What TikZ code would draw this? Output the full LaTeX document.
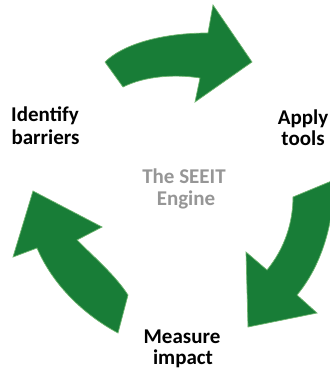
\documentclass[tikz,border=0pt]{standalone}
\usepackage{fontspec}
\setmainfont{Carlito}
\definecolor{arrowgreen}{RGB}{24,125,55}
\definecolor{glowgreen}{RGB}{110,180,110}
\definecolor{enginegray}{RGB}{150,150,150}
\begin{document}
\begin{tikzpicture}[x=1pt,y=-1pt,
  arrowshape/.style={fill=arrowgreen,draw=glowgreen,line width=0.7pt,line join=miter},
  label/.style={font=\bfseries\fontsize{21}{22}\selectfont,text=black,anchor=base,inner sep=0pt},
  enginelabel/.style={label,text=enginegray}]
\useasboundingbox (0,0) rectangle (329,374);
% top arrow
\path[arrowshape] (105,62) .. controls (122,45) and (160,33) .. (208,33) -- (213,5) -- (252,62) -- (195,102) -- (200,78) .. controls (175,74) and (145,76) .. (123,87) -- cycle;
% right arrow
\path[arrowshape] (293,197) -- (334,180) .. controls (334,230) and (318,270) .. (297,295) -- (317,313) -- (248,327) -- (246,252) -- (267,270) .. controls (285,248) and (293,222) .. (293,197) -- cycle;
% left arrow
\path[arrowshape] (33,191) -- (102,227) -- (77,240) .. controls (95,258) and (115,275) .. (128,295) -- (118,333) .. controls (90,318) and (55,290) .. (37,248) -- (13,257) -- cycle;
% labels
\node[label] (id1) at (45,122) {Identify};
\node[label] (id2) at (45.5,144) {barriers};
\node[label] (ap1) at (303,125) {Apply};
\node[label] (ap2) at (303,146) {tools};
\node[enginelabel] (en1) at (184,183) {The SEEIT};
\node[enginelabel] (en2) at (186,205) {Engine};
\node[label] (me1) at (182,343) {Measure};
\node[label] (me2) at (183,364) {impact};
\end{tikzpicture}
\end{document}
